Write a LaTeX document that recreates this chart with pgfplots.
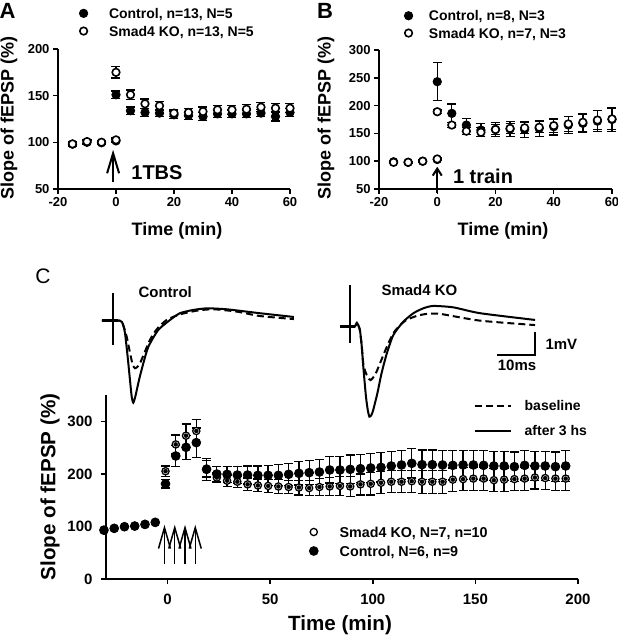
\documentclass[border=0pt]{standalone}
\usepackage{fontspec}
\setmainfont{Liberation Sans}
\usepackage{pgfplots}
\pgfplotsset{compat=1.18}
\usetikzlibrary{arrows.meta}
\newcommand{\fs}[1]{\fontsize{#1bp}{#1bp}\selectfont\bfseries}
\pgfplotsset{
  panel/.style={scale only axis, axis x line*=bottom, axis y line*=left,
    axis line style={line width=1.5bp,-}, every tick/.style={line width=1.5bp,black},
    tick align=outside, major tick length=5bp, /pgf/number format/assume math mode=true,
    clip=false, legend cell align=left,
    legend image code/.code={\draw[##1] plot coordinates {(0bp,0bp)};}},
  ctrl/.style={only marks, mark=*, mark size=4.2bp, mark options={fill=black, draw=black, line width=0.8bp}},
  ko/.style={only marks, mark=*, mark size=3.8bp, mark options={fill=white, draw=black, line width=1.6bp}},
  koc/.style={only marks, mark=*, mark size=3.6bp, mark options={fill=white, draw=black, line width=1.3bp}},
  ebar/.style={only marks, mark=none, forget plot, error bars/.cd, y explicit, y dir=#1,
    error bar style={line width=1.3bp, black}, error mark options={rotate=90, mark size=4.5bp, line width=1.3bp, black}},
  trace/.style={hide axis, scale only axis, clip=false, width=209bp, height=151.45bp,
    xmin=-5, xmax=50, ymin=-4.5, ymax=2},
  solidtr/.style={line width=2bp, smooth, tension=0.4, black},
  dashtr/.style={line width=2bp, smooth, tension=0.4, black, dash pattern=on 7bp off 4bp},
}
\begin{document}
\begin{tikzpicture}
\path[use as bounding box] (0,0) rectangle (618bp,639bp);
% ---------------- Panel A ----------------
\begin{axis}[panel, at={(58bp,450bp)}, anchor=south west, width=232bp, height=140bp,
  xmin=-20, xmax=60, ymin=50, ymax=200, xtick={-20,0,20,40,60}, ytick={50,100,150,200},
  ticklabel style={font=\fs{13}},
  legend style={at={(0.0914,1.1914)}, anchor=west, draw=none, fill=none, font=\fs{14},
    inner sep=0pt, row sep=6.7bp, nodes={inner sep=0.5bp, text height=10bp, text depth=0bp},
    /tikz/every odd column/.append style={column sep=20.7bp}}]
\addplot[ebar=both] coordinates {(-15,98) +- (0,2) (-10,100) +- (0,2) (-5,99.5) +- (0,2) (0,101.5) +- (0,2)
 (0,151) +- (0,4) (5,133.8) +- (0,4) (10,132) +- (0,4) (15,131.3) +- (0,4) (20,129.5) +- (0,4) (25,128.8) +- (0,4)
 (30,127.7) +- (0,4) (35,130.5) +- (0,4) (40,130.5) +- (0,4) (45,130.5) +- (0,4) (50,131.3) +- (0,4) (55,127.7) +- (0,5) (60,132) +- (0,4)};
\addplot[ctrl, forget plot] coordinates {(-15,98) (-10,100) (-5,99.5) (0,101.5)
 (0,151) (5,133.8) (10,132) (15,131.3) (20,129.5) (25,128.8) (30,127.7) (35,130.5) (40,130.5) (45,130.5) (50,131.3) (55,127.7) (60,132)};
\addplot[ebar=both] coordinates {(-15,98.3) +- (0,2) (-10,100.8) +- (0,2) (-5,100.1) +- (0,2) (0,102.6) +- (0,2)
 (0,175) +- (0,6) (5,151) +- (0,5) (10,141.3) +- (0,5) (15,139.1) +- (0,5) (20,131.3) +- (0,4) (25,132) +- (0,4)
 (30,133) +- (0,5) (35,134.8) +- (0,5) (40,134.8) +- (0,5) (45,135.5) +- (0,5) (50,137.7) +- (0,5) (55,136.6) +- (0,5) (60,136.6) +- (0,5)};
\addplot[ko, forget plot] coordinates {(-15,98.3) (-10,100.8) (-5,100.1) (0,102.6)
 (0,175) (5,151) (10,141.3) (15,139.1) (20,131.3) (25,132) (30,133) (35,134.8) (40,134.8) (45,135.5) (50,137.7) (55,136.6) (60,136.6)};
\addlegendimage{ctrl}\addlegendentry{Control, n=13, N=5}
\addlegendimage{ko}\addlegendentry{Smad4 KO, n=13, N=5}
\draw[line width=2bp, -{Straight Barb[length=20bp, width=12bp, line width=2bp]}] (axis cs:-1,58) -- (axis cs:-1,92);
\node[anchor=west, font=\fs{20}] at (axis cs:4.1,68) {1TBS};
\end{axis}
% ---------------- Panel B ----------------
\begin{axis}[panel, at={(379bp,450bp)}, anchor=south west, width=233bp, height=139bp,
  xmin=-20, xmax=60, ymin=50, ymax=300, xtick={-20,0,20,40,60}, ytick={50,100,150,200,250,300},
  ticklabel style={font=\fs{13}},
  legend style={at={(0.108,1.184)}, anchor=west, draw=none, fill=none, font=\fs{14},
    inner sep=0pt, row sep=6.3bp, nodes={inner sep=0.5bp, text height=10bp, text depth=0bp},
    /tikz/every odd column/.append style={column sep=15.7bp}}]
\addplot[ebar=both] coordinates {(-15,99) +- (0,2) (-10,98) +- (0,2) (-5,100) +- (0,2) (0,103) +- (0,2)
 (0,243) +- (0,34) (5,186) +- (0,17) (10,165) +- (0,12) (15,156) +- (0,12) (20,157) +- (0,13) (25,158) +- (0,13)
 (30,157) +- (0,14) (35,159) +- (0,14) (40,162) +- (0,15) (45,165) +- (0,15) (50,168) +- (0,17) (55,172) +- (0,19) (60,175) +- (0,22)};
\addplot[ctrl, forget plot] coordinates {(-15,99) (-10,98) (-5,100) (0,103)
 (0,243) (5,186) (10,165) (15,156) (20,157) (25,158) (30,157) (35,159) (40,162) (45,165) (50,168) (55,172) (60,175)};
\addplot[ebar=both] coordinates {(-15,98) +- (0,2) (-10,98) +- (0,2) (-5,100) +- (0,2) (0,104) +- (0,2)
 (0,189) +- (0,3) (5,165) +- (0,5) (10,154) +- (0,6) (15,152) +- (0,8) (20,157) +- (0,9) (25,159) +- (0,9)
 (30,160) +- (0,10) (35,161) +- (0,10) (40,164) +- (0,12) (45,167) +- (0,14) (50,170) +- (0,16) (55,174) +- (0,17) (60,176) +- (0,19)};
\addplot[ko, forget plot] coordinates {(-15,98) (-10,98) (-5,100) (0,104)
 (0,189) (5,165) (10,154) (15,152) (20,157) (25,159) (30,160) (35,161) (40,164) (45,167) (50,170) (55,174) (60,176)};
\addlegendimage{ctrl}\addlegendentry{Control, n=8, N=3}
\addlegendimage{ko}\addlegendentry{Smad4 KO, n=7, N=3}
\draw[line width=2bp, -{Straight Barb[length=7bp, width=9bp, line width=2bp]}] (axis cs:0,43) -- (axis cs:0,90);
\node[anchor=west, font=\fs{20}] at (axis cs:4.2,72) {1 train};
\end{axis}
% ---------------- Panel C: traces ----------------
\begin{axis}[trace, at={(94bp,213.45bp)}, anchor=south west]
\addplot[line width=3bp] coordinates {(-2.9,0) (1.2,0)};
\addplot[line width=2bp] coordinates {(0,1.19) (0,-1.04)};
\addplot[dashtr] coordinates {(-2.9,0) (1.8,0) (2.6,-0.15) (3.6,-0.69) (4.5,-1.4) (5.2,-1.9) (5.8,-2.04) (6.5,-1.97) (7.1,-1.83) (8.4,-1.33) (9.7,-0.83) (11.5,-0.37) (14.1,0.03) (17.6,0.27) (22,0.43) (26.4,0.49) (32.6,0.39) (38.7,0.2) (47.6,0.07)};
\addplot[solidtr] coordinates {(-2.9,0) (1.8,0) (2.6,-0.15) (3.16,-0.54) (3.86,-1.55) (4.47,-2.55) (4.92,-3.26) (5.34,-3.52) (5.87,-3.26) (6.84,-2.55) (7.98,-1.83) (9.3,-1.12) (11.9,-0.4) (15,0.03) (17.6,0.32) (21.1,0.46) (24.7,0.53) (29.9,0.49) (38.7,0.32) (47.6,0.16)};
\end{axis}
\begin{axis}[trace, at={(331bp,207.45bp)}, anchor=south west,
  legend style={at={(0.684,0.0862)}, anchor=west, draw=none, fill=none, font=\fs{14},
    inner sep=0pt, row sep=14bp, nodes={inner sep=0.5bp, text height=10bp, text depth=0bp},
    /tikz/every odd column/.append style={column sep=12bp}},
  legend cell align=left,
  legend image code/.code={\draw[#1] (0bp,0bp) -- (36bp,0bp);}]
\addplot[line width=3bp, forget plot] coordinates {(-2.6,0) (1.2,0)};
\addplot[line width=2bp, forget plot] coordinates {(0,1.79) (0,-0.70)};
\addplot[dashtr, forget plot] coordinates {(-2.6,0) (1.2,0) (1.8,0.17) (2.6,-0.14) (3.1,-0.86) (3.5,-1.6) (3.9,-1.86) (4.6,-2.15) (5.4,-2.29) (6.6,-2.07) (7.9,-1.57) (9.7,-0.86) (11.4,-0.28) (13.2,0.07) (14.9,0.29) (17.5,0.46) (20.2,0.55) (23.7,0.55) (34.2,0.26) (48.7,0.07)};
\addplot[solidtr, forget plot] coordinates {(-2.6,0) (1.2,0) (1.8,0.17) (2.6,-0.14) (3.1,-0.86) (3.5,-1.72) (4.2,-3.0) (4.7,-3.6) (5.1,-3.86) (5.6,-3.8) (6.1,-3.58) (7.2,-2.86) (8.3,-2.0) (9.7,-1.14) (11.4,-0.36) (14.0,0.21) (16.7,0.58) (19.3,0.79) (21.9,0.89) (27.2,0.83) (34.2,0.58) (48.7,0.29)};
\addplot[line width=1.8bp, forget plot] coordinates {(38.7,-1.21) (48.7,-1.21) (48.7,-0.21)};
\addlegendimage{line width=2bp, dash pattern=on 7bp off 4bp}\addlegendentry{baseline}
\addlegendimage{line width=2bp}\addlegendentry{after 3 hs}
\end{axis}
% ---------------- Panel C: LTP ----------------
\begin{axis}[panel, at={(106bp,60bp)}, anchor=south west, width=472bp, height=184bp,
  xmin=-30, xmax=200, ymin=0, ymax=350, xtick={0,50,100,150,200}, ytick={0,100,200,300},
  ticklabel style={font=\fs{15}}, xticklabel style={yshift=-7bp}, yticklabel style={xshift=-5bp},
  legend style={at={(0.4305,0.2038)}, anchor=west, draw=none, fill=none, font=\fs{14.3},
    inner sep=0pt, row sep=8bp, nodes={inner sep=0.5bp, text height=10bp, text depth=0bp},
    /tikz/every odd column/.append style={column sep=21bp}}]
% KO markers (drawn first; error bars pass over them)
\addplot[koc, forget plot] coordinates {(-31,92) (-26,96) (-21,99) (-16,100) (-11,103) (-6,107)
 (-1,205) (4,256) (9,272.6) (14,281.5) (19,210) (24,193) (29,187) (34,185) (39,180) (44,178) (49,177) (54,176) (59,175) (64,174) (69,173)
 (74,175) (79,176) (84,177) (89,176) (94,180) (99,181) (104,183) (109,185) (114,185) (119,186) (124,185) (129,185) (134,185) (139,189)
 (144,190) (149,191) (154,191) (159,188) (164,189) (169,190) (174,191) (179,193) (184,192) (189,191) (194,191)};
% KO error bars
\addplot[ebar=both] coordinates {(-1,205) +- (0,10) (4,256) +- (0,18) (9,272.6) +- (0,22) (14,281.5) +- (0,22) (19,210) +- (0,16)
 (24,193) +- (0,10) (29,187) +- (0,11) (34,185) +- (0,11) (39,180) +- (0,12) (44,178) +- (0,12)
 (49,177) +- (0,12) (54,176) +- (0,13) (59,175) +- (0,13) (64,174) +- (0,14) (69,173) +- (0,14) (74,175) +- (0,16) (79,176) +- (0,17)
 (84,177) +- (0,18) (89,176) +- (0,19) (94,180) +- (0,20) (99,181) +- (0,21) (104,183) +- (0,21) (109,185) +- (0,21) (114,185) +- (0,21)
 (119,186) +- (0,21) (124,185) +- (0,22) (129,185) +- (0,22) (134,185) +- (0,22) (139,189) +- (0,22) (144,190) +- (0,22) (149,191) +- (0,22)
 (154,191) +- (0,22) (159,188) +- (0,22) (164,189) +- (0,22) (169,190) +- (0,22) (174,191) +- (0,22) (179,193) +- (0,22) (184,192) +- (0,22)
 (189,191) +- (0,22) (194,191) +- (0,22)};
% Control error bars
\addplot[ebar=both] coordinates {(-1,181) +- (0,8) (4,234) +- (0,20) (9,250.5) +- (0,23) (14,259.4) +- (0,28) (19,208.6) +- (0,21)
 (24,199.7) +- (0,14) (29,199.1) +- (0,15) (34,197.8) +- (0,16) (39,197.8) +- (0,17) (44,197.2) +- (0,18)
 (49,197.2) +- (0,19) (54,197.2) +- (0,20) (59,199.1) +- (0,21) (64,201) +- (0,22) (69,202.3) +- (0,23) (74,203.5) +- (0,24) (79,207.4) +- (0,25)
 (84,207.4) +- (0,26) (89,208.6) +- (0,27) (94,209.9) +- (0,27) (99,211.2) +- (0,28) (104,212.4) +- (0,28) (109,215) +- (0,28) (114,216.9) +- (0,28)
 (119,220) +- (0,28) (124,217.5) +- (0,28) (129,217.5) +- (0,28) (134,216.9) +- (0,28) (139,216.2) +- (0,28) (144,216.9) +- (0,28) (149,216.9) +- (0,28)
 (154,216.2) +- (0,28) (159,215) +- (0,28) (164,215) +- (0,28) (169,213.7) +- (0,28) (174,216.2) +- (0,28) (179,215) +- (0,28) (184,215) +- (0,28)
 (189,213.7) +- (0,28) (194,215) +- (0,29)};
% Control markers
\addplot[ctrl, mark size=4.4bp, forget plot] coordinates {(-31,93) (-26,96.4) (-21,99.5) (-16,100.8) (-11,104) (-6,107.8)
 (-1,181) (4,234) (9,250.5) (14,259.4) (19,208.6) (24,199.7) (29,199.1) (34,197.8) (39,197.8) (44,197.2) (49,197.2) (54,197.2) (59,199.1)
 (64,201) (69,202.3) (74,203.5) (79,207.4) (84,207.4) (89,208.6) (94,209.9) (99,211.2) (104,212.4) (109,215) (114,216.9) (119,220)
 (124,217.5) (129,217.5) (134,216.9) (139,216.2) (144,216.9) (149,216.9) (154,216.2) (159,215) (164,215) (169,213.7) (174,216.2)
 (179,215) (184,215) (189,213.7) (194,215)};
\addlegendimage{koc}\addlegendentry{Smad4 KO, N=7, n=10}
\addlegendimage{ctrl, mark size=4.4bp}\addlegendentry{Control, N=6, n=9}
\foreach \xx in {-1.5,3.5,8.5,13.5}{
  \edef\tmp{\noexpand\draw[line width=1.5bp, -{Straight Barb[length=21bp, width=12bp, line width=1.5bp]}] (axis cs:\xx,28) -- (axis cs:\xx,103);}\tmp
}
\end{axis}
% ---------------- Text ----------------
\node[font=\fs{22}] at (7.5bp,628bp) {A};
\node[font=\fs{22}] at (325bp,628bp) {B};
\node[font=\fontsize{21bp}{21bp}\selectfont] at (43bp,363bp) {C};
\node[font=\fs{18}, rotate=90] at (9bp,521bp) {Slope of fEPSP (\%)};
\node[font=\fs{18}] at (177bp,408bp) {Time (min)};
\node[font=\fs{18}, rotate=90] at (326bp,521bp) {Slope of fEPSP (\%)};
\node[font=\fs{18}] at (503bp,408bp) {Time (min)};
\node[font=\fs{20.6}, rotate=90] at (50bp,152bp) {Slope of fEPSP (\%)};
\node[font=\fs{20.6}] at (340bp,14bp) {Time (min)};
\node[font=\fs{15}, anchor=west] at (135bp,347bp) {Control};
\node[font=\fs{15}, anchor=west] at (378bp,349bp) {Smad4 KO};
\node[font=\fs{15}, anchor=west] at (542bp,295bp) {1mV};
\node[font=\fs{15}] at (517bp,274bp) {10ms};
\end{tikzpicture}
\end{document}
